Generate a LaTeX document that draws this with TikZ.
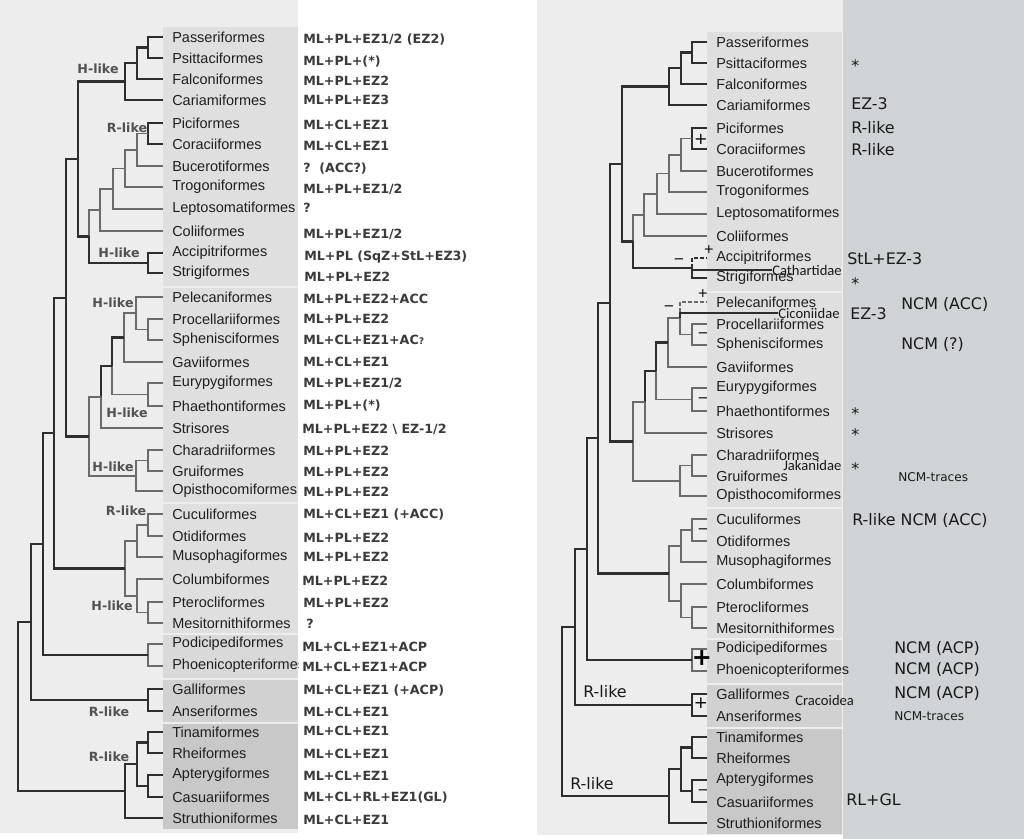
\documentclass[tikz,border=0pt]{standalone}
\usepackage{fontspec}
\setmainfont{Liberation Sans}
\newfontfamily\dejavu{DejaVu Sans}
\newfontfamily\carlito{Carlito}
\definecolor{fondo}{HTML}{EDEDED}
\definecolor{franja}{HTML}{CFD3D6}
\definecolor{cajaa}{HTML}{DFDFDF}
\definecolor{cajab}{HTML}{D9D9D9}
\definecolor{cajac}{HTML}{D1D1D1}
\definecolor{cajad}{HTML}{C8C8C8}
\definecolor{oscuro}{HTML}{2E2E2E}
\definecolor{claro}{HTML}{6A6A6A}
\definecolor{tinta}{HTML}{3A3A3A}

% the tree of bird orders, drawn once per panel
\newcommand{\avestree}{%
  % label boxes
  \fill[cajaa] (163,27) rectangle (298,286);
  \fill[cajaa] (163,288) rectangle (298,502);
  \fill[cajaa] (163,504) rectangle (298,633);
  \fill[cajab] (163,635) rectangle (298,678);
  \fill[cajac] (163,680) rectangle (298,722);
  \fill[cajad] (163,724) rectangle (298,829);
  % leaves
  \node[leaf] (pas) at (163,37) {Passeriformes};
  \node[leaf] (psi) at (163,58) {Psittaciformes};
  \node[leaf] (fal) at (163,79) {Falconiformes};
  \node[leaf] (car) at (163,100) {Cariamiformes};
  \node[leaf] (pic) at (163,123) {Piciformes};
  \node[leaf] (cor) at (163,144) {Coraciiformes};
  \node[leaf] (buc) at (163,166) {Bucerotiformes};
  \node[leaf] (tro) at (163,187) {Trogoniformes};
  \node[leaf] (lep) at (163,209) {Leptosomatiformes};
  \node[leaf] (cli) at (163,231) {Coliiformes};
  \node[leaf] (acc) at (163,253) {Accipitriformes};
  \node[leaf] (str) at (163,273) {Strigiformes};
  \node[leaf] (pel) at (163,297) {Pelecaniformes};
  \node[leaf] (pro) at (163,319) {Procellariiformes};
  \node[leaf] (sph) at (163,340) {Sphenisciformes};
  \node[leaf] (gav) at (163,362) {Gaviiformes};
  \node[leaf] (eur) at (163,383) {Eurypygiformes};
  \node[leaf] (pha) at (163,406) {Phaethontiformes};
  \node[leaf] (sts) at (163,428) {Strisores};
  \node[leaf] (cha) at (163,450) {Charadriiformes};
  \node[leaf] (gru) at (163,471) {Gruiformes};
  \node[leaf] (opi) at (163,491) {Opisthocomiformes};
  \node[leaf] (cuc) at (163,514) {Cuculiformes};
  \node[leaf] (oti) at (163,536) {Otidiformes};
  \node[leaf] (mus) at (163,557) {Musophagiformes};
  \node[leaf] (clb) at (163,579) {Columbiformes};
  \node[leaf] (pte) at (163,602) {Pterocliformes};
  \node[leaf] (mes) at (163,623) {Mesitornithiformes};
  \node[leaf] (pod) at (163,644) {Podicipediformes};
  \node[leaf] (pho) at (163,666) {Phoenicopteriformes};
  \node[leaf] (gal) at (163,689) {Galliformes};
  \node[leaf] (ans) at (163,711) {Anseriformes};
  \node[leaf] (tin) at (163,732) {Tinamiformes};
  \node[leaf] (rhe) at (163,753) {Rheiformes};
  \node[leaf] (apt) at (163,775) {Apterygiformes};
  \node[leaf] (cas) at (163,797) {Casuariiformes};
  \node[leaf] (stu) at (163,818) {Struthioniformes};
  % inner nodes
  \coordinate (pasps) at (148,47.5);
  \coordinate (pasfa) at (137,63);
  \coordinate (austr) at (125,81.5);
  \coordinate (picor) at (148,133.5);
  \coordinate (picbu) at (137,150);
  \coordinate (pictr) at (125,168.5);
  \coordinate (piclp) at (113,189);
  \coordinate (piccl) at (100,210);
  \coordinate (accst) at (148,263);
  \coordinate (afro) at (89,236.5);
  \coordinate (tellu) at (78,159);
  \coordinate (prosp) at (148,329.5);
  \coordinate (pelpr) at (136,313);
  \coordinate (pelga) at (124,337.5);
  \coordinate (eurph) at (148,394.5);
  \coordinate (aeqeu) at (112,366);
  \coordinate (aeqst) at (101,397);
  \coordinate (chagr) at (148,460.5);
  \coordinate (chaop) at (136,476);
  \coordinate (aeqch) at (89,436.5);
  \coordinate (telaq) at (66,298);
  \coordinate (cucot) at (148,525);
  \coordinate (cucmu) at (137,541);
  \coordinate (ptmes) at (148,612.5);
  \coordinate (colpm) at (137,596);
  \coordinate (otcol) at (125,568.5);
  \coordinate (neoa1) at (54,433);
  \coordinate (podph) at (148,655);
  \coordinate (neoav) at (43,544);
  \coordinate (galan) at (148,700);
  \coordinate (neogn) at (31,622);
  \coordinate (tinrh) at (148,742.5);
  \coordinate (aptca) at (148,786);
  \coordinate (tinap) at (137,764);
  \coordinate (pala) at (125,791);
  \coordinate (root) at (18,706.5);
  % Telluraves
  \draw[dk] (pasps) |- (pas) (pasps) |- (psi);
  \draw[dk] (pasfa) |- (pasps) (pasfa) |- (fal);
  \draw[dk] (austr) |- (pasfa) (austr) |- (car);
  \draw[dk] (picor) |- (pic) (picor) |- (cor);
  \draw[gr] (picbu) |- (picor) (picbu) |- (buc);
  \draw[gr] (pictr) |- (picbu) (pictr) |- (tro);
  \draw[gr] (piclp) |- (pictr) (piclp) |- (lep);
  \draw[gr] (piccl) |- (piclp) (piccl) |- (cli);
  \draw[dk,dubious] (accst) |- (acc);
  \draw[dk] (accst) |- (str);
  \draw[gr] (afro) |- (piccl);
  \draw[dk] (afro) |- (accst);
  \draw[dk] (tellu) |- (austr) (tellu) |- (afro);
  % waterbirds and allies
  \draw[gr,dubious] (pelpr) |- (pel);
  \draw[gr] (pelpr) |- (prosp);
  \draw[gr] (prosp) |- (pro) (prosp) |- (sph);
  \draw[gr] (pelga) |- (pelpr) (pelga) |- (gav);
  \draw[gr] (eurph) |- (eur) (eurph) |- (pha);
  \draw[dk] (aeqeu) |- (pelga);
  \draw[gr] (aeqeu) |- (eurph);
  \draw[dk] (aeqst) |- (aeqeu);
  \draw[gr] (aeqst) |- (sts);
  \draw[gr] (chagr) |- (cha) (chagr) |- (gru);
  \draw[gr] (chaop) |- (chagr) (chaop) |- (opi);
  \draw[gr] (aeqch) |- (aeqst) (aeqch) |- (chaop);
  \draw[dk] (telaq) |- (tellu) (telaq) |- (aeqch);
  % cuckoos, pigeons
  \draw[gr] (cucot) |- (cuc) (cucot) |- (oti);
  \draw[gr] (cucmu) |- (cucot) (cucmu) |- (mus);
  \draw[gr] (ptmes) |- (pte) (ptmes) |- (mes);
  \draw[gr] (colpm) |- (clb) (colpm) |- (ptmes);
  \draw[gr] (otcol) |- (cucmu) (otcol) |- (colpm);
  \draw[dk] (neoa1) |- (telaq) (neoa1) |- (otcol);
  \draw[gr] (podph) |- (pod) (podph) |- (pho);
  \draw[dk] (neoav) |- (neoa1) (neoav) |- (podph);
  % Galloanserae, Palaeognathae
  \draw[dk] (galan) |- (gal) (galan) |- (ans);
  \draw[dk] (neogn) |- (neoav) (neogn) |- (galan);
  \draw[dk] (tinrh) |- (tin) (tinrh) |- (rhe);
  \draw[dk] (aptca) |- (apt) (aptca) |- (cas);
  \draw[dk] (tinap) |- (tinrh) (tinap) |- (aptca);
  \draw[dk] (pala) |- (tinap);
  \draw[dk,line width=1.9pt] (pala) |- (stu);
  \draw[dk] (root) |- (neogn) (root) |- (pala);
}

\begin{document}
\begin{tikzpicture}[x=0.025cm,y=-0.025cm,
  leaf/.style={anchor=west,inner xsep=0.225cm,inner ysep=0.05cm,text=black!88,font=\fontsize{10.3}{12}\selectfont},
  dk/.style={oscuro,line width=1.45pt},
  gr/.style={claro,line width=1.35pt},
  dubious/.style={},
  clado/.style={text=black!68,font=\dejavu\bfseries\fontsize{9}{10}\selectfont,inner sep=0},
  anot/.style={anchor=west,inner sep=0,text=tinta,font=\dejavu\bfseries\fontsize{9}{11}\selectfont},
  nota/.style={anchor=west,inner sep=0,text=black!90,font=\dejavu\fontsize{11.3}{13}\selectfont},
  notapeq/.style={anchor=west,inner sep=0,text=black!90,font=\dejavu\fontsize{8.6}{10}\selectfont},
  familia/.style={anchor=west,inner sep=0,text=black!90,font=\carlito\fontsize{10.4}{12}\selectfont},
  signo/.style={inner sep=0,text=black,font=\dejavu\fontsize{#1}{#1}\selectfont}]
  \useasboundingbox (0,0) rectangle (1024,839);
  \fill[white] (0,0) rectangle (1024,839);
  \fill[fondo] (0,0) rectangle (298,833);
  \fill[fondo] (537,0) rectangle (843,835);
  \fill[franja] (843,0) rectangle (1024,839);

  % left panel
  \begin{scope}
    \clip (0,0) rectangle (298,839);
    \avestree
  \end{scope}
  \node[clado] (hl1) at (98,69) {H-like};
  \node[clado] (rl1) at (127,128) {R-like};
  \node[clado] (hl2) at (119,253) {H-like};
  \node[clado] (hl3) at (113,303) {H-like};
  \node[clado] (hl4) at (127,413) {H-like};
  \node[clado] (hl5) at (113,467) {H-like};
  \node[clado] (rl2) at (126,511) {R-like};
  \node[clado] (hl6) at (112,606) {H-like};
  \node[clado] (rl3) at (109,712) {R-like};
  \node[clado] (rl4) at (109,757) {R-like};

  \node[anot] (a1) at (303,40) {ML+PL+EZ1/2 (EZ2)};
  \node[anot] (a2) at (303,62) {ML+PL+(*)};
  \node[anot] (a3) at (303,81) {ML+PL+EZ2};
  \node[anot] (a4) at (303,100) {ML+PL+EZ3};
  \node[anot] (a5) at (303,125) {ML+CL+EZ1};
  \node[anot] (a6) at (303,146) {ML+CL+EZ1};
  \node[anot] (a7) at (303,169) {?~~(ACC?)};
  \node[anot] (a8) at (303,189) {ML+PL+EZ1/2};
  \node[anot] (a9) at (303,208) {?};
  \node[anot] (a10) at (303,234) {ML+PL+EZ1/2};
  \node[anot] (a11) at (304,257) {ML+PL (SqZ+StL+EZ3)};
  \node[anot] (a12) at (304,277) {ML+PL+EZ2};
  \node[anot] (a13) at (303,299) {ML+PL+EZ2+ACC};
  \node[anot] (a14) at (303,319) {ML+PL+EZ2};
  \node[anot] (a15) at (303,340) {ML+CL+EZ1+AC{\fontsize{6.5}{8}\selectfont ?}};
  \node[anot] (a16) at (303,362) {ML+CL+EZ1};
  \node[anot] (a17) at (303,383) {ML+PL+EZ1/2};
  \node[anot] (a18) at (303,406) {ML+PL+(*)};
  \node[anot] (a19) at (302,429) {ML+PL+EZ2 \textbackslash{} EZ-1/2};
  \node[anot] (a20) at (303,451) {ML+PL+EZ2};
  \node[anot] (a21) at (303,472) {ML+PL+EZ2};
  \node[anot] (a22) at (303,492) {ML+PL+EZ2};
  \node[anot] (a23) at (303,515) {ML+CL+EZ1 (+ACC)};
  \node[anot] (a24) at (303,538) {ML+PL+EZ2};
  \node[anot] (a25) at (303,557) {ML+PL+EZ2};
  \node[anot] (a26) at (302,581) {ML+PL+EZ2};
  \node[anot] (a27) at (303,603) {ML+PL+EZ2};
  \node[anot] (a28) at (306,624) {?};
  \node[anot] (a29) at (302,647) {ML+CL+EZ1+ACP};
  \node[anot] (a30) at (302,667) {ML+CL+EZ1+ACP};
  \node[anot] (a31) at (303,691) {ML+CL+EZ1 (+ACP)};
  \node[anot] (a32) at (303,712) {ML+CL+EZ1};
  \node[anot] (a33) at (303,731) {ML+CL+EZ1};
  \node[anot] (a34) at (303,754) {ML+CL+EZ1};
  \node[anot] (a35) at (303,776) {ML+CL+EZ1};
  \node[anot] (a36) at (303,798) {ML+CL+RL+EZ1(GL)};
  \node[anot] (a37) at (303,820) {ML+CL+EZ1};

  % right panel
  \begin{scope}[shift={(544,5)},name prefix=r-,dubious/.style={dash pattern=on 2.5pt off 1.8pt}]
    \avestree
  \end{scope}
  \node[familia] (cath) at (772,270) {Cathartidae};
  \draw[oscuro,line width=1.2pt] (r-accst) |- (cath);
  \node[familia] (cico) at (778,313) {Ciconiidae};
  \draw[oscuro,line width=1.2pt] (r-pelpr) |- (cico);
  \node[familia] (jaka) at (783,465) {Jakanidae};
  \node[familia] (crac) at (795,700) {Cracoidea};

  \node[signo=11.5] (mas1) at (701,139) {+};
  \node[signo=9.5] (menos1) at (679,261) {−};
  \node[signo=9] (mas2) at (709,250) {+};
  \node[signo=9] (mas3) at (703,294) {+};
  \node[signo=9.5] (menos2) at (669,308) {−};
  \node[signo=9.5] (menos3) at (703,335) {−};
  \node[signo=9.5] (menos4) at (703,400) {−};
  \node[signo=9.5] (menos5) at (703,531) {−};
  \node[signo=17,font=\dejavu\bfseries\fontsize{17}{17}\selectfont] (mas4) at (702,658) {+};
  \node[signo=12] (mas5) at (701,703) {+};
  \node[signo=9.5] (menos6) at (703,792) {−};

  \node[nota] (rr1) at (583,692) {R-like};
  \node[nota] (rr2) at (570,784) {R-like};

  \node[nota] (n1) at (851,66) {*};
  \node[nota] (n2) at (851,104) {EZ-3};
  \node[nota] (n3) at (851,128) {R-like};
  \node[nota] (n4) at (851,150) {R-like};
  \node[nota] (n5) at (847,259) {StL+EZ-3};
  \node[nota] (n6) at (851,284) {*};
  \node[nota] (n7) at (901,305) {NCM (ACC)};
  \node[nota] (n8) at (850,314) {EZ-3};
  \node[nota] (n9) at (901,345) {NCM (?)};
  \node[nota] (n10) at (851,414) {*};
  \node[nota] (n11) at (851,435) {*};
  \node[nota] (n12) at (851,469) {*};
  \node[notapeq] (n13) at (898,477) {NCM-traces};
  \node[nota] (n14) at (852,521) {R-like NCM (ACC)};
  \node[nota] (n15) at (894,649) {NCM (ACP)};
  \node[nota] (n16) at (894,670) {NCM (ACP)};
  \node[nota] (n17) at (894,694) {NCM (ACP)};
  \node[notapeq] (n18) at (894,716) {NCM-traces};
  \node[nota] (n19) at (846,800) {RL+GL};
\end{tikzpicture}
\end{document}
